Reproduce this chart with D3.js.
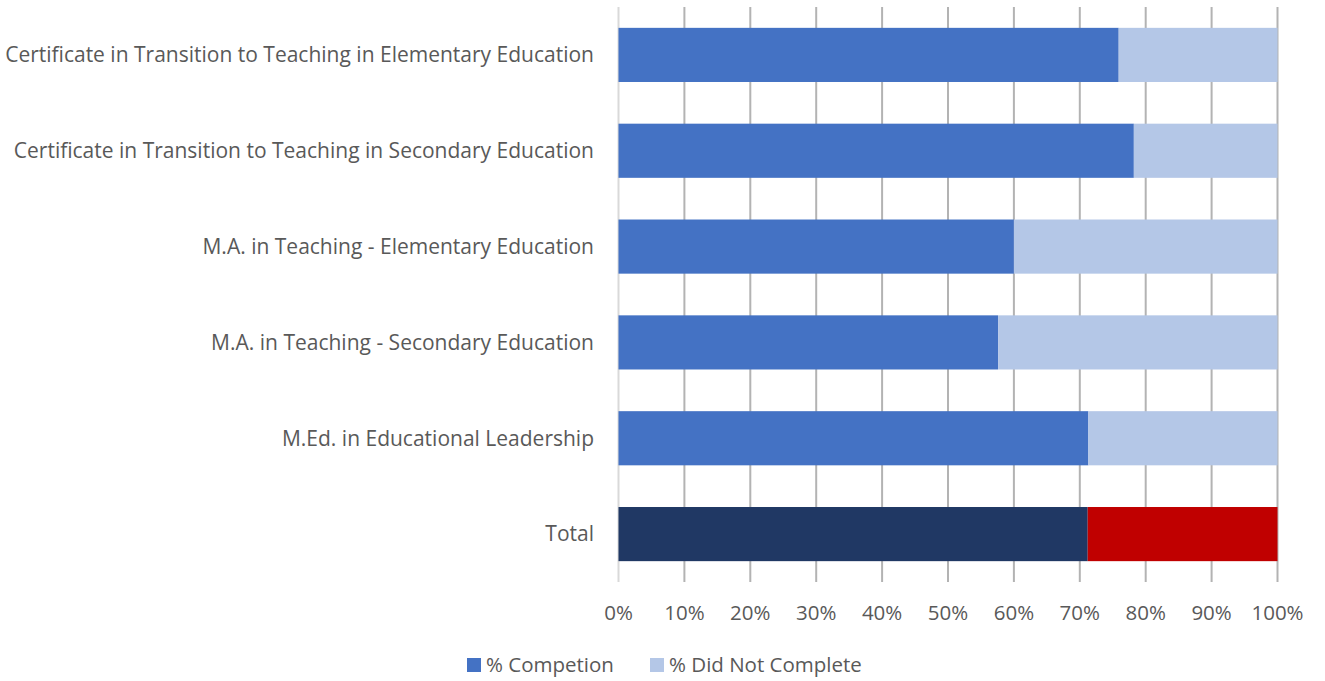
<!DOCTYPE html>
<html>
<head>
<meta charset="utf-8">
<script src="https://cdn.jsdelivr.net/npm/d3@7"></script>
<style>
  body { margin: 0; background: #fff; }
  svg { font-family: "Open Sans", sans-serif; }
</style>
</head>
<body>
<svg id="chart" width="1325" height="681"></svg>
<script>
const categories = [
  'Certificate in Transition to Teaching in Elementary Education',
  'Certificate in Transition to Teaching in Secondary Education',
  'M.A. in Teaching - Elementary Education',
  'M.A. in Teaching - Secondary Education',
  'M.Ed. in Educational Leadership',
  'Total'
];
const completion = [75.9, 78.2, 60.0, 57.6, 71.3, 71.2];
const notComplete = completion.map(v => 100 - v);
const xTicks = [0, 10, 20, 30, 40, 50, 60, 70, 80, 90, 100];
const seriesNames = ['% Competion', '% Did Not Complete'];

const svg = d3.select('#chart');
const margin = { left: 618.5, right: 47.5, top: 7, bottom: 99 };
const W = 1325, H = 681;

const x = d3.scaleLinear().domain([0, 100]).range([margin.left, W - margin.right]);
const y = d3.scaleBand().domain(categories).range([margin.top, H - margin.bottom]).paddingInner(0.435).paddingOuter(0.2175);

// gridlines
svg.append('g')
  .selectAll('line')
  .data(xTicks)
  .join('line')
    .attr('x1', d => x(d)).attr('x2', d => x(d))
    .attr('y1', margin.top).attr('y2', H - margin.bottom)
    .attr('stroke', d => d === 0 ? '#d9d9d9' : '#b3b3b3')
    .attr('stroke-width', 2);

const colorsA = categories.map(c => c === 'Total' ? '#203864' : '#4472c4');
const colorsB = categories.map(c => c === 'Total' ? '#c00000' : '#b4c7e7');

const rows = svg.append('g')
  .selectAll('g')
  .data(categories)
  .join('g');

rows.append('rect')
  .attr('x', x(0))
  .attr('y', d => y(d))
  .attr('height', y.bandwidth())
  .attr('width', (d, i) => x(completion[i]) - x(0))
  .attr('fill', (d, i) => colorsA[i]);

rows.append('rect')
  .attr('x', (d, i) => x(completion[i]))
  .attr('y', d => y(d))
  .attr('height', y.bandwidth())
  .attr('width', (d, i) => x(completion[i] + notComplete[i]) - x(completion[i]))
  .attr('fill', (d, i) => colorsB[i]);

// category labels
svg.append('g')
  .selectAll('text')
  .data(categories)
  .join('text')
    .attr('x', 594)
    .attr('y', d => y(d) + y.bandwidth() / 2)
    .attr('dy', '0.35em')
    .attr('text-anchor', 'end')
    .attr('font-size', 21)
    .attr('fill', '#595959')
    .text(d => d);

// x tick labels
svg.append('g')
  .selectAll('text')
  .data(xTicks)
  .join('text')
    .attr('x', d => x(d))
    .attr('y', 613)
    .attr('dy', '0.35em')
    .attr('text-anchor', 'middle')
    .attr('font-size', 20.5)
    .attr('fill', '#595959')
    .text(d => d + '%');

// legend
const legend = svg.append('g');
const legendX = [467, 650];
const legendColors = ['#4472c4', '#b4c7e7'];
seriesNames.forEach((name, i) => {
  legend.append('rect')
    .attr('x', legendX[i]).attr('y', 658)
    .attr('width', 14).attr('height', 14)
    .attr('fill', legendColors[i]);
  legend.append('text')
    .attr('x', legendX[i] + 19).attr('y', 665)
    .attr('dy', '0.35em')
    .attr('font-size', 20.5)
    .attr('fill', '#595959')
    .text(name);
});
</script>
</body>
</html>
